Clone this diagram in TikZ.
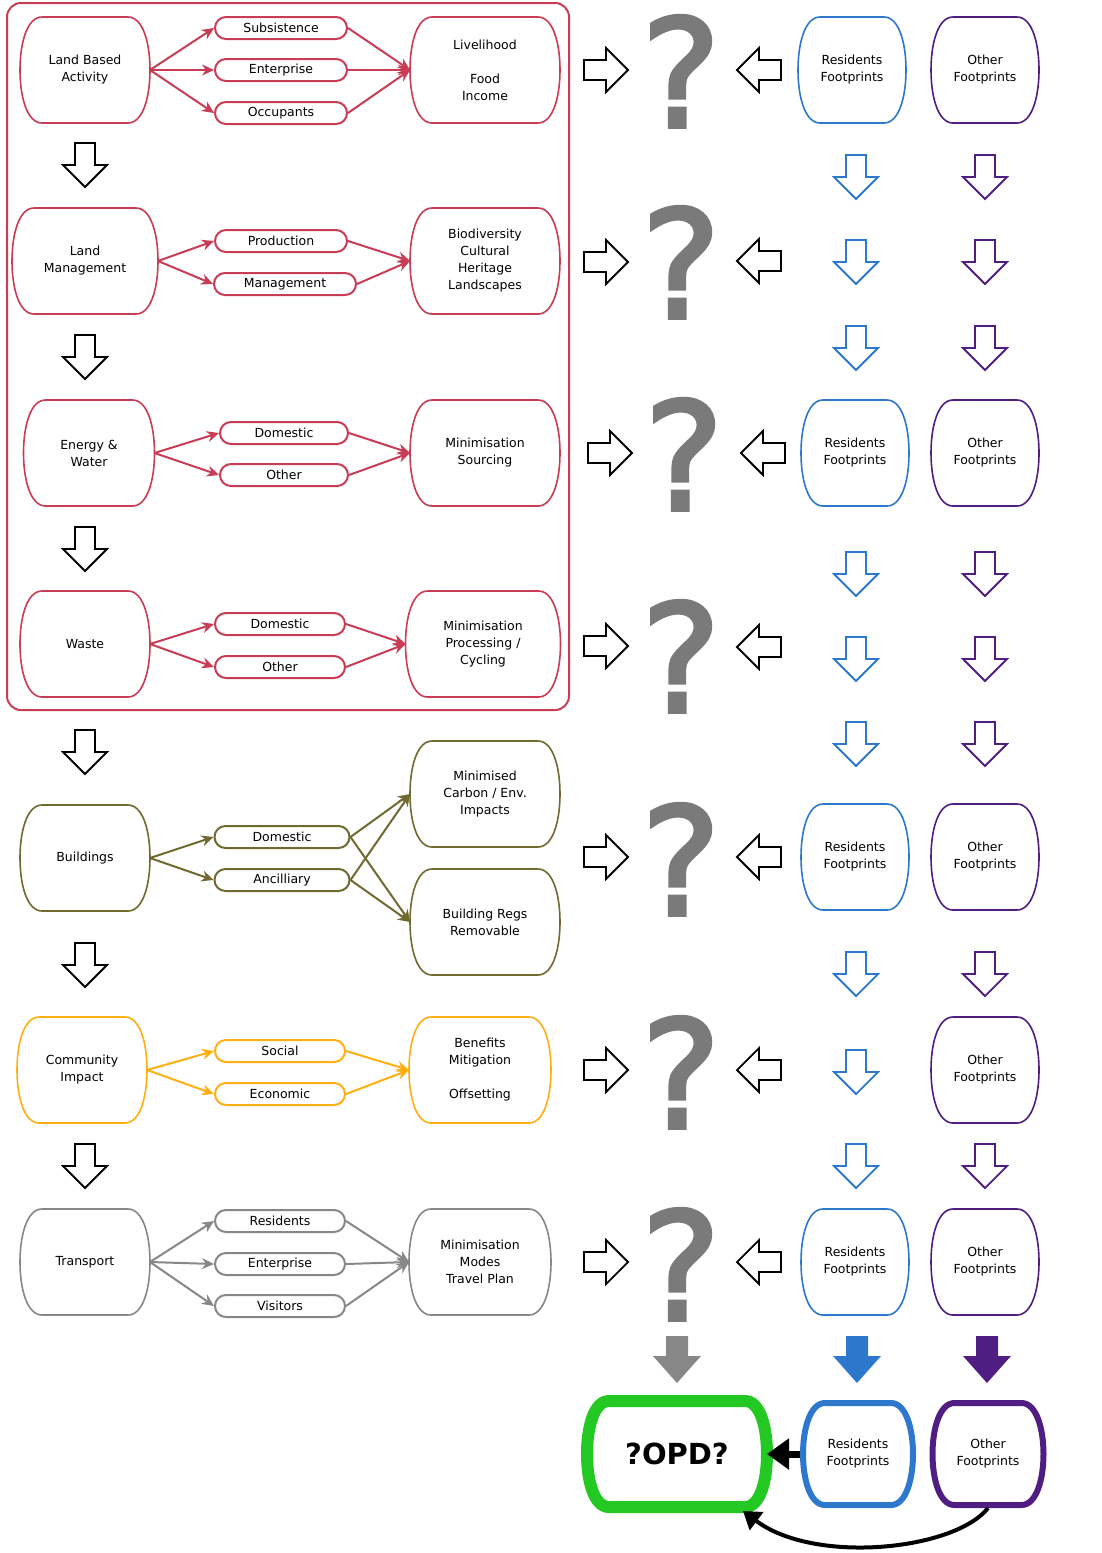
\documentclass[tikz,border=0pt]{standalone}
\usepackage{fontspec}
\setmainfont{DejaVu Sans}
\newfontfamily\qfont[FakeBold=2.5]{DejaVu Sans}
\usetikzlibrary{shapes.misc,arrows.meta,calc}

\tikzset{
  pics/hollowdown/.style={code={
    \draw[line width=1.8pt, fill=white, draw=#1] (-10,-22) -- (10,-22) -- (10,0) -- (22,0) -- (0,22) -- (-22,0) -- (-10,0) -- cycle;}},
  pics/fatdown/.style={code={
    \fill[#1] (-11,-23) -- (11,-23) -- (11,-3) -- (24,-3) -- (0,24) -- (-24,-3) -- (-11,-3) -- cycle;}}
}

% outline with bulging sides round a box node
\newcommand{\blobline}[2]{%
  \draw[#1] let \p1=(#2.north west), \p2=(#2.south east) in
    (\x1+22pt,\y1) -- (\x2-22pt,\y1)
    .. controls (\x2-7pt,\y1) and (\x2,\y1-26pt) .. (#2.east)
    .. controls (\x2,\y2+26pt) and (\x2-7pt,\y2) .. (\x2-22pt,\y2)
    -- (\x1+22pt,\y2)
    .. controls (\x1+7pt,\y2) and (\x1,\y2+26pt) .. (#2.west)
    .. controls (\x1,\y1-26pt) and (\x1+7pt,\y1) .. cycle;}

\begin{document}
\begin{tikzpicture}[x=1pt, y=-1pt,
  every node/.style={align=center, font=\fontsize{12.5}{17}\selectfont},
  box/.style={rectangle, inner sep=0pt, outer sep=0pt, minimum width=130pt, minimum height=106pt},
  pill/.style={rounded rectangle, draw, line width=2pt, minimum width=132pt,
    minimum height=22pt, inner sep=0pt},
  link/.style={-{Stealth[length=12pt,width=11pt]}, line width=2pt},
  qmark/.style={anchor=base, inner sep=0pt, text=qgray,
    font=\fontsize{150}{150}\qfont},
  foot/.style={box, minimum width=108pt}]

  % Define colors
  \definecolor{landred}{RGB}{200,60,85}
  \definecolor{buildolive}{RGB}{112,106,48}
  \definecolor{commorange}{RGB}{255,175,20}
  \definecolor{transgray}{RGB}{135,135,135}
  \definecolor{qgray}{RGB}{122,122,122}
  \definecolor{resblue}{RGB}{45,120,205}
  \definecolor{othpurple}{RGB}{80,30,130}
  \definecolor{opdgreen}{RGB}{35,200,35}

  \useasboundingbox (0,0) rectangle (1102,1553);

  % Frame round the land based rows
  \draw[landred, line width=2pt, rounded corners=14pt] (7,3) rectangle (569,710);

  % Land Based Activity
  \node[box] (lba) at (85,70) {Land Based\\Activity};
  \node[pill, draw=landred] (sub) at (281,28) {Subsistence};
  \node[pill, draw=landred] (ent) at (281,70) {Enterprise};
  \node[pill, draw=landred] (occ) at (281,113) {Occupants};
  \node[box, minimum width=150pt] (liv) at (485,70) {Livelihood\\[17pt]Food\\Income};
  \draw[link, landred] (lba.east) -- (sub.west);
  \draw[link, landred] (lba.east) -- (ent.west);
  \draw[link, landred] (lba.east) -- (occ.west);
  \draw[link, landred] (sub.east) -- (liv.west);
  \draw[link, landred] (ent.east) -- (liv.west);
  \draw[link, landred] (occ.east) -- (liv.west);

  % Land Management
  \node[box, minimum width=146pt] (lman) at (85,261) {Land\\Management};
  \node[pill, draw=landred] (prod) at (281,241) {Production};
  \node[pill, draw=landred, minimum width=142pt] (mgmt) at (285,284) {Management};
  \node[box, minimum width=150pt] (bio) at (485,261) {Biodiversity\\Cultural\\Heritage\\Landscapes};
  \draw[link, landred] (lman.east) -- (prod.west);
  \draw[link, landred] (lman.east) -- (mgmt.west);
  \draw[link, landred] (prod.east) -- (bio.west);
  \draw[link, landred] (mgmt.east) -- (bio.west);

  % Energy & Water
  \node[box, minimum width=131pt] (enw) at (89,453) {Energy \&\\Water};
  \node[pill, draw=landred, minimum width=128pt] (edom) at (284,433) {Domestic};
  \node[pill, draw=landred, minimum width=128pt] (eoth) at (284,475) {Other};
  \node[box, minimum width=150pt] (emin) at (485,453) {Minimisation\\Sourcing};
  \draw[link, landred] (enw.east) -- (edom.west);
  \draw[link, landred] (enw.east) -- (eoth.west);
  \draw[link, landred] (edom.east) -- (emin.west);
  \draw[link, landred] (eoth.east) -- (emin.west);

  % Waste
  \node[box] (wst) at (85,644) {Waste};
  \node[pill, draw=landred, minimum width=130pt] (wdom) at (280,624) {Domestic};
  \node[pill, draw=landred, minimum width=130pt] (woth) at (280,667) {Other};
  \node[box, minimum width=155pt] (wmin) at (483,644) {Minimisation\\Processing /\\Cycling};
  \draw[link, landred] (wst.east) -- (wdom.west);
  \draw[link, landred] (wst.east) -- (woth.west);
  \draw[link, landred] (wdom.east) -- (wmin.west);
  \draw[link, landred] (woth.east) -- (wmin.west);

  \foreach \bx in {lba,liv,lman,bio,enw,emin,wst,wmin}
    \blobline{landred, line width=1.6pt}{\bx};

  % Buildings
  \node[box] (bld) at (85,858) {Buildings};
  \node[pill, draw=buildolive, minimum width=135pt] (bdom) at (282,837) {Domestic};
  \node[pill, draw=buildolive, minimum width=135pt] (banc) at (282,880) {Ancilliary};
  \node[box, minimum width=150pt] (bcarb) at (485,794) {Minimised\\Carbon / Env.\\Impacts};
  \node[box, minimum width=150pt] (bregs) at (485,922) {Building Regs\\Removable};
  \draw[link, buildolive] (bld.east) -- (bdom.west);
  \draw[link, buildolive] (bld.east) -- (banc.west);
  \draw[link, buildolive] (bdom.east) -- (bcarb.west);
  \draw[link, buildolive] (bdom.east) -- (bregs.west);
  \draw[link, buildolive] (banc.east) -- (bcarb.west);
  \draw[link, buildolive] (banc.east) -- (bregs.west);
  \foreach \bx in {bld,bcarb,bregs}
    \blobline{buildolive, line width=1.6pt}{\bx};

  % Community Impact
  \node[box] (com) at (82,1070) {Community\\Impact};
  \node[pill, draw=commorange, minimum width=130pt] (csoc) at (280,1051) {Social};
  \node[pill, draw=commorange, minimum width=130pt] (ceco) at (280,1094) {Economic};
  \node[box, minimum width=142pt] (cben) at (480,1070) {Benefits\\Mitigation\\[17pt]Offsetting};
  \draw[link, commorange] (com.east) -- (csoc.west);
  \draw[link, commorange] (com.east) -- (ceco.west);
  \draw[link, commorange] (csoc.east) -- (cben.west);
  \draw[link, commorange] (ceco.east) -- (cben.west);
  \foreach \bx in {com,cben}
    \blobline{commorange, line width=1.6pt}{\bx};

  % Transport
  \node[box] (tra) at (85,1262) {Transport};
  \node[pill, draw=transgray, minimum width=130pt] (tres) at (280,1221) {Residents};
  \node[pill, draw=transgray, minimum width=130pt] (tent) at (280,1264) {Enterprise};
  \node[pill, draw=transgray, minimum width=130pt] (tvis) at (280,1306) {Visitors};
  \node[box, minimum width=142pt] (tmin) at (480,1262) {Minimisation\\Modes\\Travel Plan};
  \draw[link, transgray] (tra.east) -- (tres.west);
  \draw[link, transgray] (tra.east) -- (tent.west);
  \draw[link, transgray] (tra.east) -- (tvis.west);
  \draw[link, transgray] (tres.east) -- (tmin.west);
  \draw[link, transgray] (tent.east) -- (tmin.west);
  \draw[link, transgray] (tvis.east) -- (tmin.west);
  \foreach \bx in {tra,tmin}
    \blobline{transgray, line width=1.6pt}{\bx};

  % Block arrows down the left column
  \foreach \y in {165,357,549,752,965,1166}
    \pic at (85,\y) {hollowdown=black};

  % Question marks with their block arrows
  \node[qmark] (q1) at (681,127) {?};
  \node[qmark] (q2) at (681,318) {?};
  \node[qmark] (q3) at (684,510) {?};
  \node[qmark] (q4) at (681,712) {?};
  \node[qmark] (q5) at (681,915) {?};
  \node[qmark] (q6) at (681,1128) {?};
  \node[qmark] (q7) at (681,1320) {?};
  \foreach \y in {70,262,646,857,1070,1262}
    \pic[rotate=90] at (606,\y) {hollowdown=black};
  \pic[rotate=90] at (610,453) {hollowdown=black};
  \foreach \y in {70,261,647,857,1070,1262}
    \pic[rotate=-90] at (759,\y) {hollowdown=black};
  \pic[rotate=-90] at (763,453) {hollowdown=black};

  % Footprints
  \node[foot] (res1) at (852,70) {Residents\\Footprints};
  \node[foot] (oth1) at (985,70) {Other\\Footprints};
  \node[foot] (res3) at (855,453) {Residents\\Footprints};
  \node[foot] (oth3) at (985,453) {Other\\Footprints};
  \node[foot] (res5) at (855,857) {Residents\\Footprints};
  \node[foot] (oth5) at (985,857) {Other\\Footprints};
  \node[foot] (oth6) at (985,1070) {Other\\Footprints};
  \node[foot] (res7) at (855,1262) {Residents\\Footprints};
  \node[foot] (oth7) at (985,1262) {Other\\Footprints};
  \foreach \bx in {res1,res3,res5,res7}
    \blobline{resblue, line width=1.6pt}{\bx};
  \foreach \bx in {oth1,oth3,oth5,oth6,oth7}
    \blobline{othpurple, line width=1.6pt}{\bx};

  \foreach \y in {177,262,348,574,659,744,974,1072,1166}
    \pic at (856,\y) {hollowdown=resblue};
  \foreach \y in {177,262,348,574,659,744,974,1166}
    \pic at (985,\y) {hollowdown=othpurple};

  % Filled arrows into the bottom row
  \pic at (677,1359) {fatdown=transgray};
  \pic at (857,1359) {fatdown=resblue};
  \pic at (987,1359) {fatdown=othpurple};

  % Bottom row
  \node[box, minimum width=180pt, font=\fontsize{29}{29}\selectfont\bfseries] (opd) at (677,1454) {?OPD?};
  \node[foot, minimum width=110pt, minimum height=102pt] (res8) at (858,1454) {Residents\\Footprints};
  \node[foot, minimum width=111pt, minimum height=102pt] (oth8) at (988,1454) {Other\\Footprints};
  \blobline{opdgreen, line width=12pt}{opd};
  \blobline{resblue, line width=6pt}{res8};
  \blobline{othpurple, line width=6pt}{oth8};
  \coordinate (opdin) at (743,1511);
  \draw[-{Triangle[length=22pt,width=30pt]}, line width=7pt] ($(res8.west)+(-3,0)$) -- (opd.east);
  \draw[-{Triangle[length=17pt,width=22pt]}, line width=4pt] ($(oth8.south)+(0,3)$) .. controls (955,1550) and (815,1565) .. (opdin);

\end{tikzpicture}
\end{document}
